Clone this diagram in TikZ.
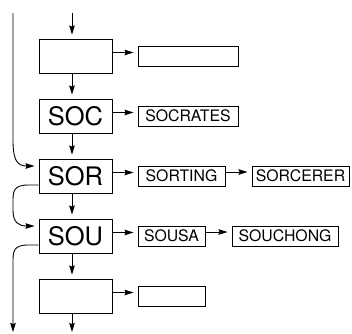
\documentclass[tikz,border=0pt]{standalone}
\usepackage{fontspec}
\setmainfont{TeX Gyre Heros}
\usetikzlibrary{arrows.meta}
\begin{document}
\begin{tikzpicture}[x=1pt, y=-1pt, line width=0.9pt,
  bucket/.style={draw, minimum width=73pt, minimum height=34pt, inner sep=0pt,
    font=\fontsize{25.5}{25.5}\selectfont},
  entry/.style={draw, minimum height=20pt, inner sep=0pt,
    font=\fontsize{15.8}{15.8}\selectfont},
  link/.style={-{Stealth[length=9pt, width=5.5pt, inset=1pt]}, shorten >=4pt},
]
\useasboundingbox (0,0) rectangle (352,333);

% hash table buckets
\node[bucket] (b1)  at (75.5,56)  {};
\node[bucket] (soc) at (75.5,116) {SOC};
\node[bucket] (sor) at (75.5,176) {SOR};
\node[bucket] (sou) at (75.5,236) {SOU};
\node[bucket] (b5)  at (75.5,296) {};

% chained entries
\node[entry, minimum width=100pt] (e1)       at (188,56)    {};
\node[entry, minimum width=100pt] (socrates) at (188,116)   {SOCRATES};
\node[entry, minimum width=87pt]  (sorting)  at (181.5,176) {SORTING};
\node[entry, minimum width=97pt]  (sorcerer) at (300.5,176) {SORCERER};
\node[entry, minimum width=67pt]  (sousa)    at (171.5,236) {SOUSA};
\node[entry, minimum width=106pt] (souchong) at (285,236)   {SOUCHONG};
\node[entry, minimum width=67pt]  (e2)       at (171.5,296) {};

% free ends
\coordinate (in)      at (72,13);
\coordinate (out)     at (72,336);
\coordinate (topleft) at (13,13);
\coordinate (botleft) at (13,336);

% vertical chain of buckets
\draw[link] (in) -- ([xshift=-3.5pt]b1.north);
\draw[link] ([xshift=-3.5pt]b1.south)  -- ([xshift=-3.5pt]soc.north);
\draw[link] ([xshift=-3.5pt]soc.south) -- ([xshift=-3.5pt]sor.north);
\draw[link] ([xshift=-3.5pt]sor.south) -- ([xshift=-3.5pt]sou.north);
\draw[link] ([xshift=-3.5pt]sou.south) -- ([xshift=-3.5pt]b5.north);
\draw[link] ([xshift=-3.5pt]b5.south)  -- (out);

% bucket to entry links
\draw[link] ([yshift=3.5pt]b1.east)  -- ([yshift=3.5pt]e1.west);
\draw[link] ([yshift=3.5pt]soc.east) -- ([yshift=3.5pt]socrates.west);
\draw[link] ([yshift=3.5pt]sor.east) -- ([yshift=3.5pt]sorting.west);
\draw[link] ([yshift=3.5pt]sou.east) -- ([yshift=3.5pt]sousa.west);
\draw[link] ([yshift=3.5pt]b5.east)  -- ([yshift=3.5pt]e2.west);
\draw[link] ([yshift=4pt]sorting.east) -- ([yshift=4pt]sorcerer.west);
\draw[link] ([yshift=4pt]sousa.east)   -- ([yshift=4pt]souchong.west);

% side links on the left
\draw[link] (topleft) -- (13,140) .. controls (13,160) and (17,166) .. ([yshift=10pt]sor.west);
\draw[link] ([yshift=-9pt]sor.west) -- (28,185) .. controls (13,185) and (13,192) .. (13,202)
  -- (13,210) .. controls (13,222) and (18,226) .. ([yshift=10pt]sou.west);
\draw[link] ([yshift=-9pt]sou.west) -- (28,245) .. controls (13,245) and (13,252) .. (13,262)
  -- (botleft);
\end{tikzpicture}
\end{document}
